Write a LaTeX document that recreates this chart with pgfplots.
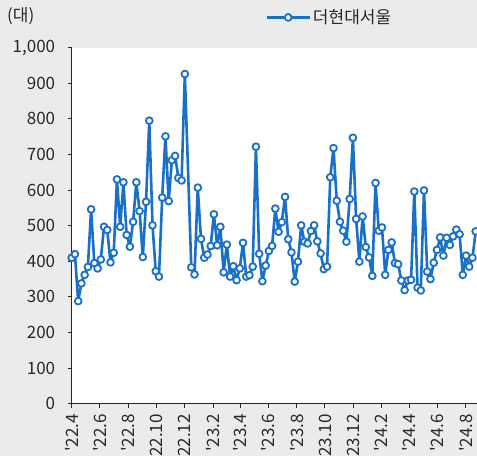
\documentclass[border=0pt]{standalone}
\usepackage{pgfplots}
\pgfplotsset{compat=1.18}
\usepackage{fontspec}
\setmainfont{Noto Sans CJK KR}
\newfontfamily\kf{Noto Sans CJK KR}
\definecolor{bg}{RGB}{235,235,235}
\definecolor{lc}{RGB}{24,112,200}
\definecolor{ax}{RGB}{40,40,40}
\begin{document}
\begin{tikzpicture}[x=1bp,y=1bp]
\fill[bg] (0,0) rectangle (477,456);
\useasboundingbox (0,0) rectangle (477,456);
\node[anchor=west, font=\kf\fontsize{17bp}{19bp}\selectfont, text=ax, inner sep=0] at (7,440) {(대)};
\begin{axis}[
  at={(71.7bp,52.3bp)}, anchor=south west,
  width=405.3bp, height=356bp, scale only axis,
  xmin=0, xmax=125.4, ymin=0, ymax=1000,
  axis background/.style={fill=white},
  axis x line*=bottom, axis y line*=left,
  axis line style={draw=ax, line width=0.8bp},
  tick style={draw=ax, line width=0.8bp},
  tick align=outside, major tick length=4bp,
  ytick={0,100,...,1000},
  xtick={0,8.714,17.429,26.143,34.857,43.714,52.143,60.857,69.571,78.286,87,95.857,104.429,113.143,121.857},
  xticklabels={{\char39}22.4,{\char39}22.6,{\char39}22.8,{\char39}22.10,{\char39}22.12,{\char39}23.2,{\char39}23.4,{\char39}23.6,{\char39}23.8,{\char39}23.10,{\char39}23.12,{\char39}24.2,{\char39}24.4,{\char39}24.6,{\char39}24.8},
  x tick label style={yshift=-3bp, rotate=90, anchor=east, font=\kf\fontsize{17bp}{19bp}\selectfont, text=ax},
  y tick label style={xshift=-9bp, font=\kf\fontsize{17bp}{19bp}\selectfont, text=ax},
  /pgf/number format/assume math mode=true,
  /pgf/number format/1000 sep={,},
  scaled y ticks=false,
  legend style={at={(0.47,1.085)}, anchor=west, draw=none, fill=none, font=\kf\fontsize{17bp}{19bp}\selectfont, text=ax},
  legend image code/.code={\draw[mark repeat=2,mark phase=2,#1] plot coordinates {(0bp,0bp) (21.5bp,0bp) (43bp,0bp)};},
]
\addplot[color=lc, line width=2.6bp, line join=round, mark=*, mark size=3.4bp, mark options={fill=white, draw=lc, line width=1.8bp}] coordinates {
(0,410) (1,420) (2,288) (3,338) (4,362) (5,384) (6,546) (7,395) (8,380) (9,405)
(10,497) (11,488) (12,397) (13,424) (14,630) (15,497) (16,622) (17,474) (18,441) (19,511)
(20,622) (21,541) (22,412) (23,567) (24,795) (25,501) (26,372) (27,357) (28,579) (29,751)
(30,569) (31,684) (32,696) (33,634) (34,627) (35,926)
(37,383) (38,363) (39,607)
(40,463) (41,410) (42,419) (43,443) (44,532) (45,445) (46,497) (47,369) (48,447) (49,357)
(50,386) (51,347) (52,380) (53,452) (54,357) (55,361) (56,385) (57,722) (58,421) (59,344)
(60,388) (61,429) (62,443) (63,548) (64,483) (65,510) (66,581) (67,462) (68,425) (69,343)
(70,399) (71,501) (72,455) (73,450) (74,485) (75,501) (76,456) (77,422) (78,378) (79,385)
(80,636) (81,718) (82,570) (83,511) (84,486) (85,455) (86,575) (87,747) (88,519) (89,399)
(90,526) (91,440) (92,411) (93,359) (94,620) (95,486) (96,495) (97,362) (98,432) (99,453)
(100,395) (101,392) (102,346) (103,319) (104,346) (105,348) (106,596) (107,326) (108,318) (109,599)
(110,371) (111,350) (112,396) (113,432) (114,467) (115,416) (116,466) (117,446) (118,470) (119,489)
(120,476) (121,362) (122,416) (123,385) (124,410) (125,484)
};
\addlegendentry{더현대서울}
\end{axis}
\end{tikzpicture}
\end{document}
